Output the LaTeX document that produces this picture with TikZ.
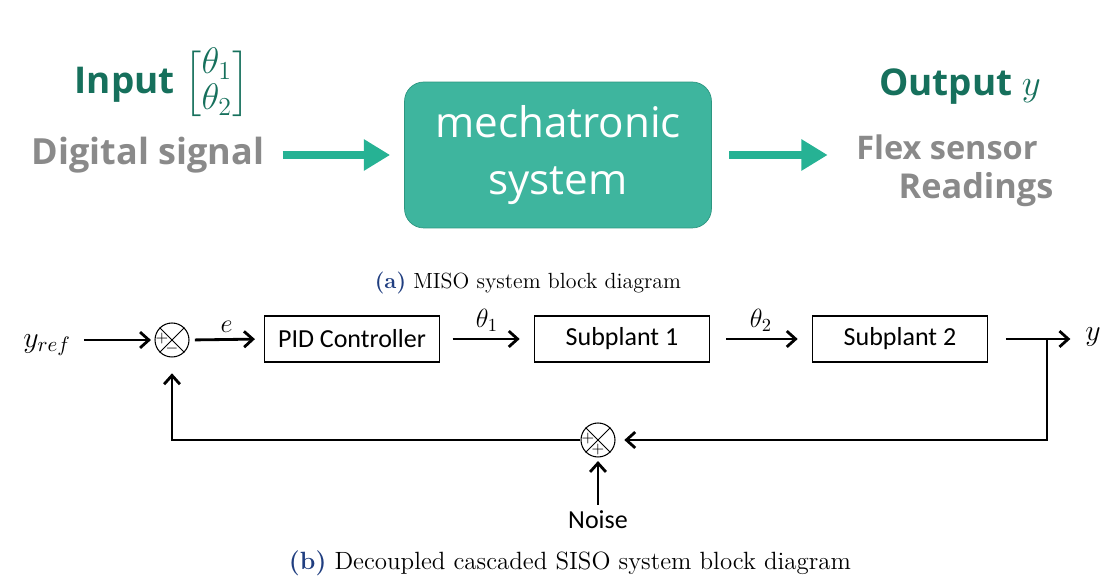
\RequirePackage{fix-cm}
\documentclass[tikz,border=0pt]{standalone}
\usepackage{amsmath}
\usepackage{fontspec}
\newfontfamily\panelfont{Open Sans}
\newfontfamily\blockfont{Carlito}
\usetikzlibrary{arrows.meta, positioning, calc}
\definecolor{tealdark}{RGB}{22, 112, 92}
\definecolor{tealarrow}{RGB}{38, 178, 148}
\definecolor{tealfill}{RGB}{62, 181, 158}
\definecolor{tealedge}{RGB}{44, 150, 128}
\definecolor{labelgray}{RGB}{138, 138, 138}
\definecolor{capblue}{RGB}{32, 62, 128}

\begin{document}
\begin{tikzpicture}[x=0.02cm, y=-0.02cm,
  block/.style={draw, line width=0.9pt, minimum width=3.5cm, minimum height=0.93cm, font=\blockfont\fontsize{14.8}{17}\selectfont},
  sumnode/.style={draw, circle, line width=0.6pt, minimum size=0.68cm, inner sep=0pt},
  flow/.style={line width=1.6pt, -{Straight Barb[length=5pt, width=9pt]}},
  bigflow/.style={line width=5pt, tealarrow, -{Triangle[length=15pt, width=17pt]}},
  sign/.style={font=\fontsize{9}{9}\selectfont, inner sep=0pt}
]
  \useasboundingbox (0, 0) rectangle (1100, 580);

  % (a) MISO block
  \node[font=\panelfont\bfseries\fontsize{21}{24}\selectfont, text=tealdark] (input) at (162, 84)
    {Input $\renewcommand{\arraystretch}{0.8}\begin{bmatrix}\theta_1\\ \theta_2\end{bmatrix}$};
  \node[font=\panelfont\bfseries\fontsize{20.5}{24}\selectfont, text=labelgray] (digital) at (148, 155) {Digital signal};

  \node[draw=tealedge, fill=tealfill, rounded corners=11pt, minimum width=6.14cm, minimum height=2.92cm,
    text=white, align=center, font=\panelfont\fontsize{24}{32}\selectfont] (system) at (558, 155) {mechatronic\\system};

  \node[font=\panelfont\bfseries\fontsize{21}{24}\selectfont, text=tealdark] (output) at (960, 87) {Output $y$};
  \node[font=\panelfont\bfseries\fontsize{18.5}{24}\selectfont, text=labelgray] (flex) at (947, 147) {Flex sensor};
  \node[font=\panelfont\bfseries\fontsize{19.5}{24}\selectfont, text=labelgray] (readings) at (976, 190) {Readings};

  \draw[bigflow, shorten <=7pt, shorten >=8pt] (digital.east) -- (system.west);
  \draw[bigflow, shorten <=10pt] (system.east) -- ([xshift=-0.45cm]system.east -| flex.west);

  \node[font=\fontsize{12.5}{14}\selectfont] (capa) at (528, 283)
    {\textcolor{capblue}{\textbf{(a)}} MISO system block diagram};

  % (b) cascaded SISO loop
  \node[font=\fontsize{17}{20}\selectfont] (yref) at (47, 345) {$y_{ref}$};
  \node[sumnode] (sum1) at (172, 340) {};
  \node[block] (pid) at (352, 339) {PID Controller};
  \node[block] (sub1) at (622, 339) {Subplant 1};
  \node[block] (sub2) at (900, 339) {Subplant 2};
  \node[font=\fontsize{17}{20}\selectfont] (yout) at (1093, 337) {$y$};
  \coordinate (tap) at (1047, 340);
  \node[sumnode] (sum2) at (598, 440) {};
  \node[font=\blockfont\fontsize{14.8}{17}\selectfont] (noise) at (598, 520) {Noise};

  % junction marks
  \foreach \s in {sum1, sum2} {
    \draw[line width=0.5pt] (\s.north west) -- (\s.south east);
    \draw[line width=0.5pt] (\s.north east) -- (\s.south west);
    \node[sign] at ($(\s.center)+(-10, -1)$) {$+$};
  }
  \node[sign] at ($(sum1.center)+(0, 9)$) {$-$};
  \node[sign] at ($(sum2.center)+(0, 10)$) {$+$};

  % forward path
  \draw[flow, shorten <=4pt, shorten >=2pt] (yref.east |- sum1.west) -- (sum1.west);
  \draw[flow, shorten <=3pt, shorten >=5pt] (sum1.east) -- node[above, font=\fontsize{15}{18}\selectfont] {$e$} (pid.west);
  \draw[flow, shorten <=7pt, shorten >=8pt] (pid.east) -- node[above, font=\fontsize{15}{18}\selectfont] {$\theta_1$} (sub1.west);
  \draw[flow, shorten <=9pt, shorten >=8pt] (sub1.east) -- node[above, font=\fontsize{15}{18}\selectfont] {$\theta_2$} (sub2.west);
  \draw[flow, shorten <=10pt, shorten >=5pt] (sub2.east) -- (yout.west |- sub2.east);

  % feedback path
  \draw[flow, shorten >=5pt] (tap) |- (sum2.east);
  \draw[flow, shorten >=9pt] (sum2.west) -| (sum1.south);
  \draw[flow, shorten >=2pt] (noise.north) -- (sum2.south);

  \node[font=\fontsize{14.2}{16}\selectfont] (capb) at (570, 563)
    {\textcolor{capblue}{\textbf{(b)}} Decoupled cascaded SISO system block diagram};
\end{tikzpicture}
\end{document}
